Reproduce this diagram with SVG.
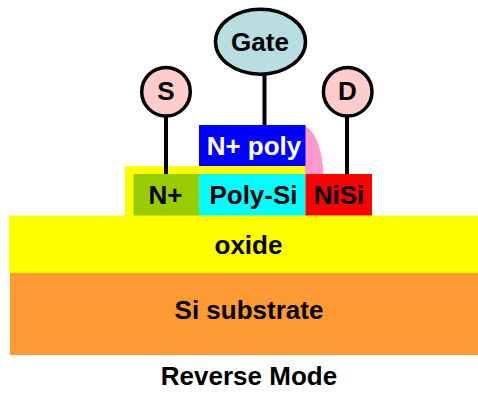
<svg xmlns="http://www.w3.org/2000/svg" width="478" height="394" viewBox="0 0 478 394">
<style>
text{font-family:"Liberation Sans",Arial,sans-serif;font-weight:700;font-size:26px;text-anchor:middle;fill:#000}
.term{stroke:#000;stroke-width:3.500}
.wire{stroke:#000;stroke-width:4;fill:none}
</style>
<rect width="478" height="394" fill="#fff"/>
<g id="substrate"><rect x="10" y="273" width="468" height="82" fill="#ff9933"/><text x="249" y="319">Si substrate</text></g>
<g id="oxide-top"><rect x="125" y="166" width="181" height="50" fill="#ffff00"/></g>
<g id="oxide"><rect x="9" y="215.500" width="469" height="57.500" fill="#ffff00"/><text x="248.500" y="254">oxide</text></g>
<g id="spacer"><path d="M305 126C315 131 322 148 323.500 174L305 174Z" fill="#ff99cc"/></g>
<g id="n-plus"><rect x="133.500" y="174" width="65.500" height="41.500" fill="#99cc00"/><text x="165.500" y="204">N+</text></g>
<g id="poly-si"><rect x="199" y="174" width="106.500" height="41.500" fill="#00ffff"/><text x="253.500" y="204">Poly-Si</text></g>
<g id="nisi"><rect x="305.500" y="174" width="66.500" height="41.500" fill="#ff0000"/><text x="339" y="204">NiSi</text></g>
<g id="n-poly"><rect x="199" y="125" width="106.500" height="41" fill="#0000ff"/><text x="254" y="155" style="fill:#fff">N+ poly</text></g>
<g id="connectors">
<line class="wire" x1="166" y1="116" x2="166" y2="174"/>
<line class="wire" x1="264.500" y1="74" x2="264.500" y2="125"/>
<line class="wire" x1="347" y1="116" x2="347" y2="174"/>
</g>
<g id="gate"><ellipse class="term" cx="260.500" cy="41.700" rx="45" ry="32.500" fill="#b9dee2"/><text x="260" y="51">Gate</text></g>
<g id="source"><circle class="term" cx="166" cy="91.700" r="24.300" fill="#ffcccc"/><text x="166" y="100">S</text></g>
<g id="drain"><circle class="term" cx="347.700" cy="91.700" r="24.300" fill="#ffcccc"/><text x="347.500" y="100">D</text></g>
<g id="caption"><text x="249" y="385">Reverse Mode</text></g>
</svg>
